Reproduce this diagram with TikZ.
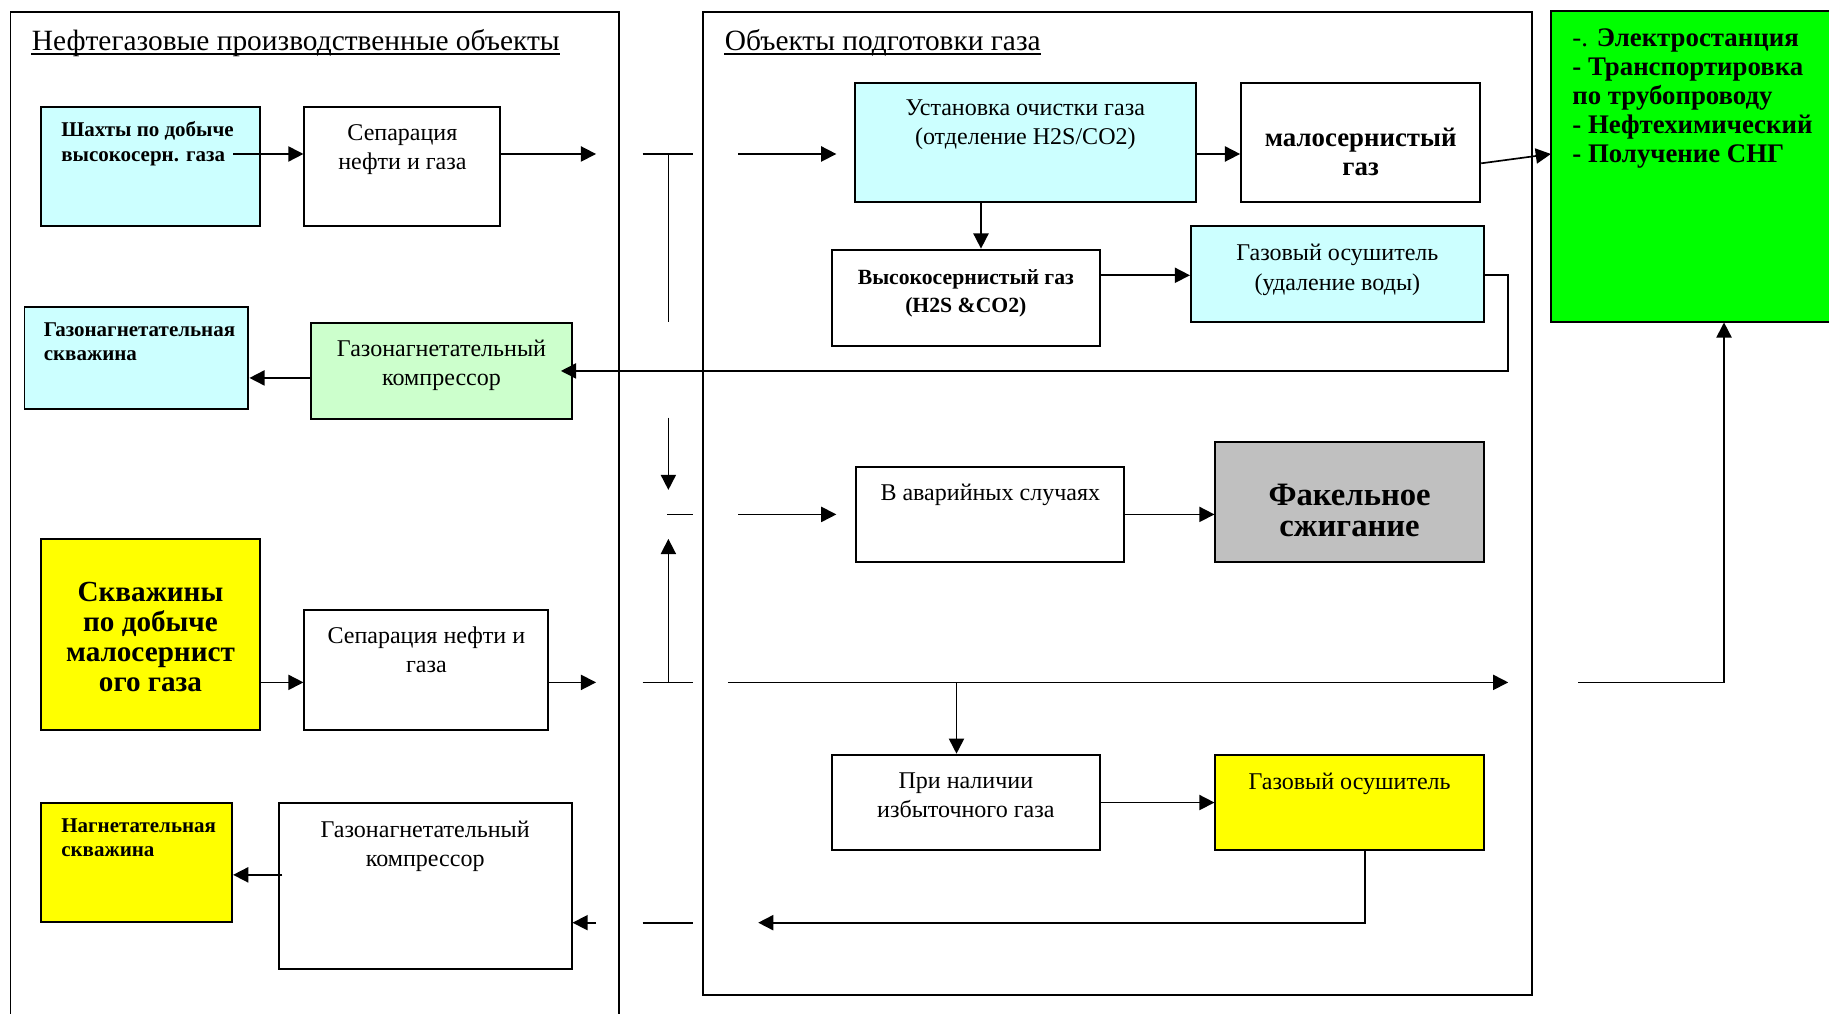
\documentclass[tikz,border=0pt]{standalone}
\usepackage{fontspec}
\setmainfont{Liberation Serif}
\usetikzlibrary{arrows.meta,calc}

\definecolor{paleCyan}{HTML}{CCFFFF}
\definecolor{paleGreen}{HTML}{CCFFCC}
\definecolor{brightYellow}{HTML}{FFFF00}
\definecolor{flareGray}{HTML}{C0C0C0}
\definecolor{brightGreen}{HTML}{00FF00}

% box given by its corners: name, x1, y1, x2, y2, fill
\newcommand\mkbox[6]{%
  \pgfmathsetmacro\boxW{(#4-#2)*0.5}%
  \pgfmathsetmacro\boxH{(#5-#3)*0.5}%
  \node[box, fill=#6, minimum width=\boxW pt, minimum height=\boxH pt] (#1)
    at ({(#2+#4)/2},{(#3+#5)/2}) {};}

\begin{document}
\begin{tikzpicture}[x=0.5pt,y=-0.5pt,
  box/.style={draw, line width=0.85pt, inner sep=0pt},
  frame/.style={line width=0.85pt},
  conn/.style={line width=0.72pt},
  arr/.style={conn, -{Triangle[length=6.5pt,width=6.5pt]}},
  ttl/.style={font=\fontsize{12.6}{15}\selectfont, inner sep=0pt, anchor=base west},
  body/.style={font=\fontsize{10.3}{12.5}\selectfont, align=center, inner sep=0pt, anchor=north},
  smallb/.style={font=\bfseries\fontsize{9}{10.5}\selectfont, align=left, inner sep=0pt, anchor=north west},
  vysb/.style={font=\bfseries\fontsize{9.3}{12}\selectfont, align=center, inner sep=0pt},
  bigb/.style={font=\bfseries\fontsize{12.5}{12.9}\selectfont, align=center, inner sep=0pt},
  fakb/.style={font=\bfseries\fontsize{14}{13}\selectfont, align=center, inner sep=0pt},
  malb/.style={font=\bfseries\fontsize{11.5}{12.5}\selectfont, align=center, inner sep=0pt},
  listb/.style={font=\bfseries\fontsize{11.5}{12.4}\selectfont, align=left, inner sep=0pt, anchor=north west}
]
\useasboundingbox (0,0) rectangle (1568,869);

% ---- frames ----
\draw[frame] (9,869) -- (9,10) -- (531,10) -- (531,869);
\draw[frame] (603,10) rectangle (1313,853);

\node[ttl] (t1) at (27,43) {Нефтегазовые производственные объекты};
\draw[conn] ([yshift=-1.6pt]t1.base west) -- ([yshift=-1.6pt]t1.base east);
\node[ttl] (t2) at (621,43) {Объекты подготовки газа};
\draw[conn] ([yshift=-1.6pt]t2.base west) -- ([yshift=-1.6pt]t2.base east);

% ---- boxes ----
\mkbox{shahty}{35}{92}{223}{194}{paleCyan}
\mkbox{sep1}{261}{92}{429}{194}{white}
\mkbox{gzwell}{21}{263}{213}{351}{paleCyan}
\mkbox{comp1}{267}{277}{490}{359}{paleGreen}
\mkbox{wells2}{35}{462}{223}{626}{brightYellow}
\mkbox{sep2}{261}{523}{470}{626}{white}
\mkbox{nwell}{35}{688}{199}{790}{brightYellow}
\mkbox{comp2}{239}{688}{490}{831}{white}
\mkbox{ochist}{733}{71}{1025}{173}{paleCyan}
\mkbox{malo}{1064}{71}{1269}{173}{white}
\mkbox{vysoko}{713}{214}{943}{297}{white}
\mkbox{osush1}{1021}{194}{1272}{276}{paleCyan}
\mkbox{avar}{734}{400}{964}{482}{white}
\mkbox{fakel}{1042}{379}{1272}{482}{flareGray}
\mkbox{izbyt}{713}{647}{943}{729}{white}
\mkbox{osush2}{1042}{647}{1272}{729}{brightYellow}
\node[fill=brightGreen, inner sep=0pt, minimum width=119pt, minimum height=133pt] (green) at (1449,143) {};
\draw[frame] (green.north east) -- (green.north west) -- (green.south west) -- (green.south east);

% ---- box texts ----
\node[smallb] (shahty-t) at ($(shahty.north west)+(18,13)$) {Шахты по добыче\\высокосерн. газа};
\node[body] (sep1-t) at ($(sep1.north)+(0,15)$) {Сепарация\\нефти и газа};
\node[smallb] (gzwell-t) at ($(gzwell.north west)+(17,14)$) {Газонагнетательная\\скважина};
\node[body] (comp1-t) at ($(comp1.north)+(0,15)$) {Газонагнетательный\\компрессор};
\node[bigb] (wells2-t) at ($(wells2.center)+(0,2)$) {Скважины\\по добыче\\малосернист\\ого газа};
\node[body] (sep2-t) at ($(sep2.north)+(0,15)$) {Сепарация нефти и\\газа};
\node[smallb] (nwell-t) at ($(nwell.north west)+(18,14)$) {Нагнетательная\\скважина};
\node[body] (comp2-t) at ($(comp2.north)+(0,16)$) {Газонагнетательный\\компрессор};
\node[body] (ochist-t) at ($(ochist.north)+(0,15)$) {Установка очистки газа\\(отделение H2S/CO2)};
\node[malb] (malo-t) at ($(malo.center)+(0,8)$) {малосернистый\\газ};
\node[vysb] (vysoko-t) at ($(vysoko.center)+(0,-4)$) {Высокосернистый газ\\(H2S \&CO2)};
\node[body] (osush1-t) at ($(osush1.north)+(0,16)$) {Газовый осушитель\\(удаление воды)};
\node[body] (avar-t) at ($(avar.north)+(0,15)$) {В аварийных случаях};
\node[fakb] (fakel-t) at ($(fakel.center)+(0,7)$) {Факельное\\сжигание};
\node[body] (izbyt-t) at ($(izbyt.north)+(0,16)$) {При наличии\\избыточного газа};
\node[body] (osush2-t) at ($(osush2.north)+(0,16)$) {Газовый осушитель};
\node[listb] (green-t) at ($(green.north west)+(18,15)$) {{\mdseries -.} Электростанция\\- Транспортировка\\по трубопроводу\\- Нефтехимический\\- Получение СНГ};

% ---- levels and free ends ----
\coordinate (r1) at (0,132);
\coordinate (rm) at (0,140);
\coordinate (r2) at (0,236);
\coordinate (r3) at (0,318);
\coordinate (r3b) at (0,324);
\coordinate (r4) at (0,441);
\coordinate (r5) at (0,585);
\coordinate (r6) at (0,688);
\coordinate (r7) at (0,750);
\coordinate (r8) at (0,791);
\coordinate (xv) at (841,0);
\coordinate (xi) at (820,0);
\coordinate (xo) at (1170,0);
\coordinate (xg) at (1478,0);
\coordinate (c1) at (200,132);
\coordinate (s1out) at (511,132);
\coordinate (s2out) at (511,585);
\coordinate (inA) at (633,132);
\coordinate (inAe) at (717,132);
\coordinate (inB) at (633,441);
\coordinate (inBe) at (717,441);
\coordinate (mainS) at (624,585);
\coordinate (mainE) at (1293,585);
\coordinate (retK) at (1293,318);
\coordinate (botE) at (650,791);
\coordinate (outS) at (1353,585);
\coordinate (cmpIn) at (511,791);

% ---- connectors: left frame ----
\draw[arr] (c1) -- (sep1.west |- r1);
\draw[arr] (sep1.east |- r1) -- (s1out);
\draw[arr] (comp1.west |- r3b) -- (gzwell.east |- r3b);
\draw[arr] (wells2.east |- r5) -- (sep2.west |- r5);
\draw[arr] (sep2.east |- r5) -- (s2out);
\draw[arr] ($(comp2.west |- r7)+(4,0)$) -- (nwell.east |- r7);
\draw[arr] (cmpIn) -- (comp2.east |- r8);

% ---- links between the frames ----
\draw[conn] (551,132) -- (594,132);
\draw[conn] (573,132) -- (573,276);
\draw[arr] (573,358) -- (573,420);
\draw[conn] (572,441) -- (594,441);
\draw[arr] (573,585) -- (573,462);
\draw[conn] (551,585) -- (594,585);
\draw[conn] (551,791) -- (594,791);

% ---- connectors: gas treatment ----
\draw[arr] (inA) -- (inAe);
\draw[arr] (ochist.east |- r1) -- (malo.west |- r1);
\draw[arr] (malo.east |- rm) -- (green.west |- r1);
\draw[arr] (ochist.south -| xv) -- (vysoko.north -| xv);
\draw[arr] (vysoko.east |- r2) -- (osush1.west |- r2);
\draw[arr] (osush1.east |- r2) -| (retK) -- ($(comp1.east |- r3)+(-10,0)$);
\draw[arr] (inB) -- (inBe);
\draw[arr] (avar.east |- r4) -- (fakel.west |- r4);
\draw[arr] (mainS) -- (mainE);
\draw[arr] (xi |- r5) -- (izbyt.north -| xi);
\draw[arr] (izbyt.east |- r6) -- (osush2.west |- r6);
\draw[arr] (osush2.south -| xo) |- (botE);
\draw[arr] (outS) -| (green.south -| xg);
\end{tikzpicture}
\end{document}
